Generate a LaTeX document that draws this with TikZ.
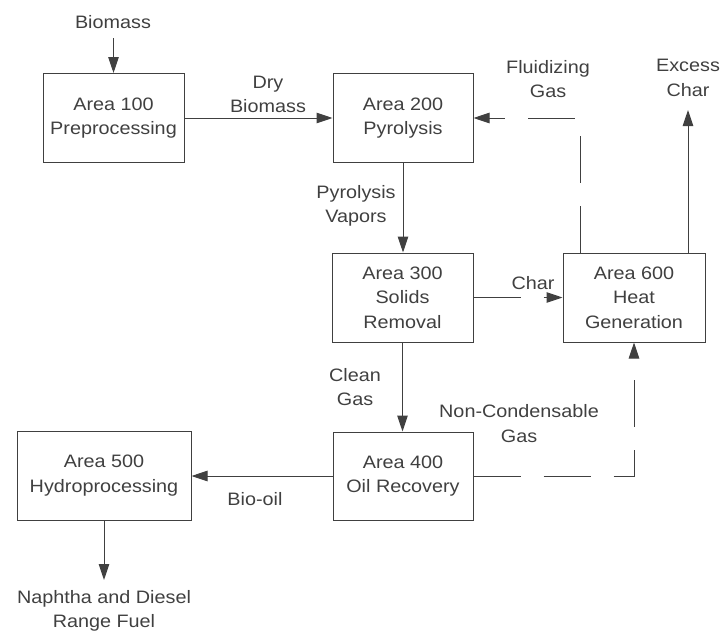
\documentclass[tikz,border=0pt]{standalone}
\usepackage{fontspec}
\setmainfont{Liberation Sans}[FakeStretch=1.1]
\usetikzlibrary{arrows.meta}
\definecolor{ink}{RGB}{64,64,64}
\tikzset{
  box/.style={draw=ink, fill=white, line width=1pt, minimum width=141pt, minimum height=89pt, inner sep=0pt, align=center, text=ink},
  lbl/.style={inner sep=0pt, align=center, text=ink},
  arr/.style={draw=ink, line width=1pt, -{Triangle[length=16pt,width=10.5pt]}},
  dsh/.style={dash pattern=on 47pt off 23pt}
}
\begin{document}
\begin{tikzpicture}[x=1pt, y=-1pt, font=\fontsize{18}{24.5}\selectfont]
\useasboundingbox (0,0) rectangle (723,632);
% boxes
\node[box] (a100) at (113.5,118) {Area 100\\Preprocessing};
\node[box, minimum width=140pt] (a200) at (403,118) {Area 200\\Pyrolysis};
\node[box] (a300) at (402.5,297.5) {Area 300\\Solids\\Removal};
\node[box, minimum width=142pt] (a600) at (634,297.5) {Area 600\\Heat\\Generation};
\node[box, minimum width=140pt, minimum height=88pt] (a400) at (403,476) {Area 400\\Oil Recovery};
\node[box, minimum width=174pt] (a500) at (104,475.5) {Area 500\\Hydroprocessing};
% labels
\node[lbl] (tbio) at (113,22) {Biomass};
\node[lbl] (tdry) at (268,94.5) {Dry\\Biomass};
\node[lbl] (tflu) at (548,79) {Fluidizing\\Gas};
\node[lbl] (texc) at (688,78) {Excess\\Char};
\node[lbl] (tpyr) at (356,206) {Pyrolysis\\Vapors};
\node[lbl] (tchar) at (533,283) {Char};
\node[lbl] (tcln) at (355,387) {Clean\\Gas};
\node[lbl] (tnon) at (519,423.5) {Non-Condensable\\Gas};
\node[lbl] (toil) at (255,499) {Bio-oil};
\node[lbl] (tnap) at (104,611) {Naphtha and Diesel\\Range Fuel};
% free ends
\coordinate (bin) at (113.5,38);
\coordinate (exc) at (688,110);
\coordinate (nap) at (104,580);
\coordinate (flu) at (580,0);
% connectors
\draw[arr] (bin) -- (a100.north);
\draw[arr] (a100.east) -- (a200.west);
\draw[arr] (a200.south) -- (a200.south |- a300.north);
\draw[arr, dsh] (a300.east) -- (a600.west);
\draw[arr] (a300.south) -- (a300.south |- a400.north);
\draw[arr] (a400.west) -- (a400.west -| a500.east);
\draw[arr] (a500.south) -- (nap);
\draw[arr] (a600.north -| exc) -- (exc);
\draw[arr, dsh] (a600.north -| flu) |- (a200.east);
\draw[arr, dsh] (a400.east) -| (a600.south);
\end{tikzpicture}
\end{document}
